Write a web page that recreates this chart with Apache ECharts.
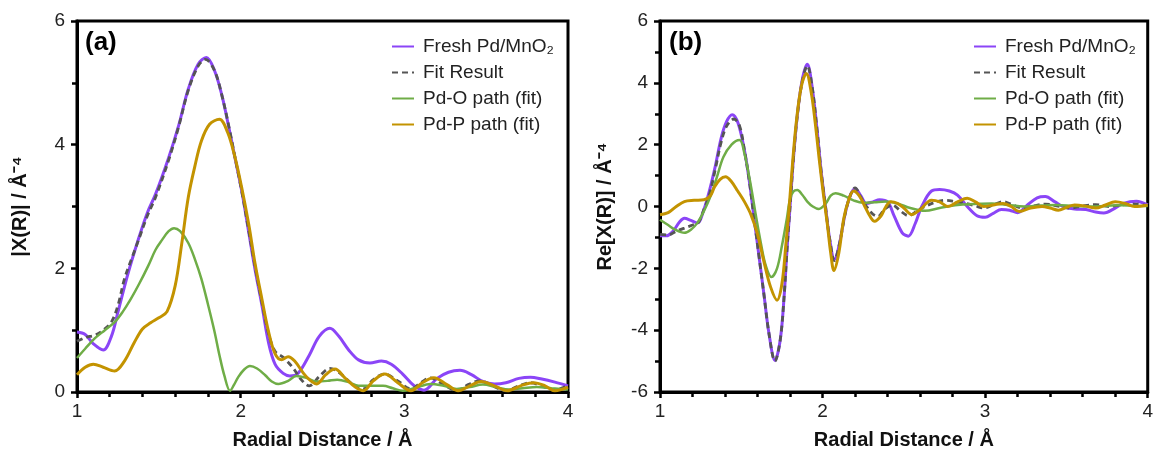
<!DOCTYPE html>
<html>
<head>
<meta charset="utf-8">
<script src="https://cdn.jsdelivr.net/npm/echarts@6/dist/echarts.min.js"></script>
<style>html,body{margin:0;padding:0;background:#fff}#c{width:1156px;height:455px}</style>
</head>
<body>
<div id="c"></div>
<script>
// ---- data ----
const seriesNames = ['Fresh Pd/MnO\u2082', 'Fit Result', 'Pd-O path (fit)', 'Pd-P path (fit)'];
const xTicks = [1, 2, 3, 4];
const yTicksA = [0, 2, 4, 6];
const yTicksB = [-6, -4, -2, 0, 2, 4, 6];

// Panel (a): |X(R)|
const freshA = [[1.00,0.97],[1.05,0.93],[1.10,0.78],[1.16,0.68],[1.21,0.9],[1.25,1.29],[1.31,1.9],[1.375,2.47],[1.43,2.9],[1.48,3.2],[1.56,3.79],[1.62,4.3],[1.68,4.9],[1.74,5.3],[1.79,5.41],[1.84,5.2],[1.885,4.8],[1.93,4.25],[1.965,3.79],[2.01,3.2],[2.05,2.57],[2.09,1.95],[2.13,1.4],[2.17,0.8],[2.21,0.45],[2.26,0.3],[2.30,0.26],[2.35,0.3],[2.42,0.6],[2.48,0.9],[2.545,1.03],[2.6,0.9],[2.66,0.68],[2.72,0.52],[2.79,0.47],[2.86,0.5],[2.92,0.45],[2.99,0.29],[3.06,0.1],[3.12,0.03],[3.2,0.22],[3.27,0.32],[3.34,0.35],[3.41,0.28],[3.48,0.17],[3.55,0.13],[3.62,0.15],[3.70,0.22],[3.77,0.24],[3.84,0.21],[3.92,0.16],[4.0,0.1]];
const fitA = [[1.00,0.82],[1.05,0.88],[1.11,0.92],[1.16,1.0],[1.21,1.13],[1.25,1.4],[1.29,1.83],[1.34,2.2],[1.375,2.45],[1.43,2.85],[1.48,3.15],[1.56,3.75],[1.62,4.28],[1.68,4.88],[1.74,5.27],[1.785,5.38],[1.84,5.2],[1.885,4.8],[1.93,4.27],[1.965,3.8],[2.01,3.2],[2.05,2.6],[2.09,2.0],[2.13,1.45],[2.17,0.95],[2.21,0.66],[2.26,0.56],[2.32,0.39],[2.37,0.2],[2.42,0.1],[2.48,0.25],[2.545,0.38],[2.6,0.32],[2.65,0.2],[2.70,0.1],[2.75,0.05],[2.81,0.2],[2.88,0.29],[2.96,0.18],[3.04,0.05],[3.10,0.15],[3.16,0.23],[3.24,0.12],[3.32,0.02],[3.39,0.12],[3.46,0.18],[3.54,0.1],[3.62,0.02],[3.70,0.1],[3.77,0.15],[3.84,0.1],[3.91,0.03],[4.0,0.1]];
const pdoA = [[1.00,0.55],[1.05,0.7],[1.11,0.87],[1.17,1.0],[1.23,1.13],[1.28,1.3],[1.33,1.51],[1.38,1.75],[1.435,2.04],[1.48,2.3],[1.52,2.46],[1.56,2.6],[1.593,2.65],[1.63,2.6],[1.68,2.41],[1.72,2.15],[1.76,1.83],[1.80,1.42],[1.84,0.98],[1.87,0.6],[1.90,0.27],[1.935,0.02],[1.96,0.12],[1.985,0.24],[2.02,0.36],[2.057,0.42],[2.10,0.38],[2.15,0.27],[2.19,0.17],[2.23,0.13],[2.29,0.18],[2.34,0.26],[2.40,0.23],[2.465,0.17],[2.53,0.18],[2.59,0.2],[2.66,0.16],[2.72,0.1],[2.79,0.1],[2.87,0.1],[2.93,0.06],[2.99,0.02],[3.07,0.07],[3.16,0.13],[3.24,0.1],[3.32,0.05],[3.40,0.08],[3.48,0.12],[3.56,0.08],[3.64,0.04],[3.72,0.06],[3.81,0.08],[3.90,0.06],[4.0,0.04]];
const pdpA = [[1.00,0.28],[1.05,0.4],[1.10,0.45],[1.16,0.4],[1.23,0.34],[1.29,0.5],[1.35,0.8],[1.40,1.02],[1.45,1.12],[1.50,1.2],[1.55,1.3],[1.60,1.72],[1.64,2.4],[1.68,3.15],[1.72,3.65],[1.76,4.06],[1.81,4.33],[1.87,4.41],[1.92,4.2],[1.965,3.8],[2.006,3.31],[2.05,2.7],[2.087,2.09],[2.13,1.5],[2.17,0.98],[2.21,0.62],[2.25,0.52],[2.29,0.57],[2.33,0.5],[2.40,0.25],[2.465,0.13],[2.52,0.28],[2.576,0.37],[2.64,0.22],[2.70,0.08],[2.75,0.02],[2.81,0.18],[2.88,0.29],[2.96,0.15],[3.04,0.02],[3.11,0.15],[3.18,0.23],[3.26,0.12],[3.33,0.02],[3.40,0.1],[3.47,0.17],[3.55,0.1],[3.63,0.02],[3.71,0.1],[3.79,0.15],[3.86,0.1],[3.92,0.02],[4.0,0.08]];

// Panel (b): Re[X(R)]
const freshB = [[1.00,-0.95],[1.04,-0.95],[1.08,-0.8],[1.12,-0.5],[1.15,-0.38],[1.19,-0.45],[1.23,-0.53],[1.27,-0.1],[1.305,0.53],[1.34,1.3],[1.377,2.23],[1.41,2.75],[1.444,2.97],[1.48,2.7],[1.52,1.8],[1.55,0.8],[1.58,-0.43],[1.61,-1.65],[1.64,-2.87],[1.67,-4.1],[1.707,-4.98],[1.74,-4.3],[1.764,-2.87],[1.78,-1.5],[1.80,0],[1.82,1.5],[1.845,2.97],[1.875,4.1],[1.906,4.6],[1.935,3.9],[1.967,2.44],[1.99,1.2],[2.018,0],[2.045,-1.1],[2.073,-1.72],[2.10,-1.3],[2.14,-0.21],[2.17,0.35],[2.20,0.58],[2.235,0.35],[2.27,0.1],[2.31,0.15],[2.35,0.22],[2.40,0.15],[2.44,-0.3],[2.49,-0.85],[2.527,-0.96],[2.57,-0.55],[2.61,0],[2.67,0.5],[2.72,0.55],[2.78,0.5],[2.83,0.37],[2.89,0],[2.95,-0.3],[3.00,-0.35],[3.05,-0.22],[3.10,-0.1],[3.15,-0.12],[3.20,-0.2],[3.26,0.05],[3.32,0.28],[3.37,0.32],[3.43,0.15],[3.48,0],[3.55,-0.08],[3.62,-0.1],[3.68,-0.18],[3.73,-0.21],[3.80,-0.05],[3.85,0.1],[3.93,0.17],[4.0,0.05]];
const fitB = [[1.00,-0.9],[1.05,-0.92],[1.10,-0.8],[1.15,-0.7],[1.20,-0.6],[1.234,-0.53],[1.27,-0.1],[1.305,0.4],[1.34,1.2],[1.377,2.1],[1.41,2.6],[1.455,2.83],[1.49,2.6],[1.52,1.8],[1.55,0.8],[1.58,-0.43],[1.61,-1.65],[1.64,-2.87],[1.67,-4.1],[1.707,-5.0],[1.74,-4.3],[1.764,-2.87],[1.78,-1.5],[1.80,0],[1.82,1.5],[1.845,2.95],[1.875,4.05],[1.906,4.55],[1.935,3.9],[1.967,2.44],[1.99,1.2],[2.018,0],[2.045,-1.1],[2.073,-1.75],[2.10,-1.3],[2.14,-0.21],[2.17,0.35],[2.20,0.6],[2.235,0.3],[2.27,0],[2.31,-0.25],[2.34,-0.32],[2.38,-0.1],[2.43,0.05],[2.48,-0.15],[2.53,-0.3],[2.58,-0.15],[2.63,0],[2.70,0.15],[2.76,0.2],[2.82,0.15],[2.88,0.1],[2.94,0.02],[2.99,-0.05],[3.05,0.05],[3.11,0.16],[3.17,0.05],[3.23,-0.05],[3.30,0.02],[3.37,0.08],[3.44,0.02],[3.52,-0.05],[3.60,0.02],[3.68,0.06],[3.76,0],[3.84,0.05],[3.92,0.08],[4.0,0.03]];
const pdoB = [[1.00,-0.43],[1.05,-0.6],[1.09,-0.74],[1.15,-0.85],[1.19,-0.75],[1.23,-0.53],[1.27,-0.15],[1.31,0.32],[1.35,0.95],[1.39,1.6],[1.44,2.0],[1.489,2.15],[1.52,1.7],[1.56,0.64],[1.59,-0.3],[1.62,-1.17],[1.65,-1.9],[1.686,-2.28],[1.72,-2.0],[1.75,-1.27],[1.78,-0.4],[1.80,0.25],[1.82,0.48],[1.845,0.53],[1.875,0.38],[1.906,0.16],[1.94,0.0],[1.977,-0.08],[2.02,0.1],[2.05,0.35],[2.08,0.43],[2.13,0.35],[2.19,0.2],[2.25,0.12],[2.32,0.14],[2.39,0.16],[2.46,0.1],[2.54,-0.05],[2.63,-0.14],[2.72,-0.05],[2.83,0.05],[2.93,0.08],[3.04,0.1],[3.14,0.05],[3.24,0.0],[3.34,0.03],[3.44,0.05],[3.54,0.02],[3.64,0.0],[3.74,0.02],[3.84,0.04],[3.92,0.02],[4.0,0.02]];
const pdpB = [[1.00,-0.27],[1.05,-0.2],[1.10,0.0],[1.15,0.16],[1.21,0.2],[1.27,0.22],[1.31,0.35],[1.336,0.64],[1.37,0.88],[1.403,0.96],[1.44,0.8],[1.478,0.5],[1.52,0.15],[1.56,-0.27],[1.60,-0.9],[1.64,-1.8],[1.68,-2.6],[1.72,-3.03],[1.75,-2.5],[1.774,-1.25],[1.795,0],[1.815,1.38],[1.84,2.8],[1.87,3.9],[1.90,4.3],[1.93,3.7],[1.955,2.7],[1.98,1.5],[2.005,0.4],[2.03,-0.6],[2.05,-1.5],[2.07,-2.07],[2.10,-1.5],[2.13,-0.4],[2.16,0.2],[2.19,0.5],[2.225,0.35],[2.26,0],[2.29,-0.3],[2.32,-0.48],[2.36,-0.3],[2.39,0],[2.42,0.15],[2.46,0.1],[2.50,-0.05],[2.55,-0.26],[2.60,-0.1],[2.67,0.2],[2.72,0.15],[2.77,0],[2.83,0.15],[2.89,0.27],[2.94,0.15],[2.99,0],[3.05,0.05],[3.11,0.1],[3.16,0],[3.21,-0.16],[3.28,-0.05],[3.35,0],[3.40,-0.05],[3.45,-0.12],[3.50,-0.03],[3.55,0.05],[3.61,0.02],[3.68,-0.05],[3.74,0.05],[3.80,0.15],[3.86,0.1],[3.92,0],[4.0,0.05]];

// ---- chart ----
const colors = ['#8B45F7', '#555555', '#6FAD47', '#C39300'];
const widths = [3, 2.8, 2.5, 3];
const FONT = 'Liberation Sans, Arial, sans-serif';
const chart = echarts.init(document.getElementById('c'), null, {renderer: 'canvas'});

function xAxis(gi) {
  return {
    type: 'value', gridIndex: gi, min: xTicks[0], max: xTicks[xTicks.length - 1], interval: 1,
    name: 'Radial Distance / \u00C5', nameLocation: 'middle', nameGap: 38,
    nameTextStyle: {fontFamily: FONT, fontSize: 20, fontWeight: 'bold', color: '#111'},
    axisLine: {onZero: false, lineStyle: {color: '#000', width: 3}},
    axisTick: {inside: false, length: 6, lineStyle: {width: 2.5, color: '#000'}},
    minorTick: {show: true, splitNumber: 5, length: 5, lineStyle: {width: 2.5, color: '#000'}},
    axisLabel: {fontFamily: FONT, fontSize: 19, color: '#222', margin: 10},
    splitLine: {show: false}
  };
}
function yAxis(gi, ticks, name, gap) {
  return {
    type: 'value', gridIndex: gi, min: ticks[0], max: ticks[ticks.length - 1], interval: 2,
    name: name, nameLocation: 'middle', nameGap: gap,
    nameTextStyle: {fontFamily: FONT, fontSize: 20, fontWeight: 'bold', color: '#111'},
    axisLine: {onZero: false, lineStyle: {color: '#000', width: 3}},
    axisTick: {inside: false, length: 6, lineStyle: {width: 2.5, color: '#000'}},
    minorTick: {show: true, splitNumber: 2, length: 5, lineStyle: {width: 2.5, color: '#000'}},
    axisLabel: {fontFamily: FONT, fontSize: 19, color: '#222', margin: 12},
    splitLine: {show: false}
  };
}
function mk(name, data, idx, gi) {
  const dashed = idx === 1;
  return {
    name: name, type: 'line', xAxisIndex: gi, yAxisIndex: gi, data: data,
    smooth: 0.35, symbol: 'none', showSymbol: false, clip: true,
    lineStyle: {color: colors[idx], width: widths[idx], type: dashed ? [6, 4] : 'solid'},
    itemStyle: {color: colors[idx]},
    z: 2 + idx
  };
}
const legendBase = {
  orient: 'vertical', itemWidth: 22, itemHeight: 14, itemGap: 7,
  itemStyle: {opacity: 0, borderWidth: 0},
  textStyle: {fontFamily: FONT, fontSize: 19, color: '#222', padding: [0, 0, 0, 4]},
  data: seriesNames, selectedMode: false
};
const option = {
  animation: false,
  backgroundColor: '#fff',
  grid: [
    {left: 77, top: 21, width: 491, height: 377, show: true, borderColor: '#000', borderWidth: 3, backgroundColor: 'transparent'},
    {left: 660, top: 21, width: 491, height: 377, show: true, borderColor: '#000', borderWidth: 3, backgroundColor: 'transparent'}
  ],
  xAxis: [xAxis(0), xAxis(1)],
  yAxis: [
    yAxis(0, yTicksA, '|X(R)| / \u00C5\u207B\u2074', 47),
    yAxis(1, yTicksB, 'Re[X(R)] / \u00C5\u207B\u2074', 45)
  ],
  legend: [
    Object.assign({}, legendBase, {left: 386, top: 32}),
    Object.assign({}, legendBase, {left: 968, top: 32})
  ],
  graphic: [
    {type: 'text', left: 85, top: 30, style: {text: '(a)', font: 'bold 26px ' + FONT, fill: '#000'}},
    {type: 'text', left: 669, top: 30, style: {text: '(b)', font: 'bold 26px ' + FONT, fill: '#000'}}
  ],
  series: [
    mk(seriesNames[0], freshA, 0, 0), mk(seriesNames[1], fitA, 1, 0), mk(seriesNames[2], pdoA, 2, 0), mk(seriesNames[3], pdpA, 3, 0),
    mk(seriesNames[0], freshB, 0, 1), mk(seriesNames[1], fitB, 1, 1), mk(seriesNames[2], pdoB, 2, 1), mk(seriesNames[3], pdpB, 3, 1)
  ]
};
chart.setOption(option);
</script>
</body>
</html>
